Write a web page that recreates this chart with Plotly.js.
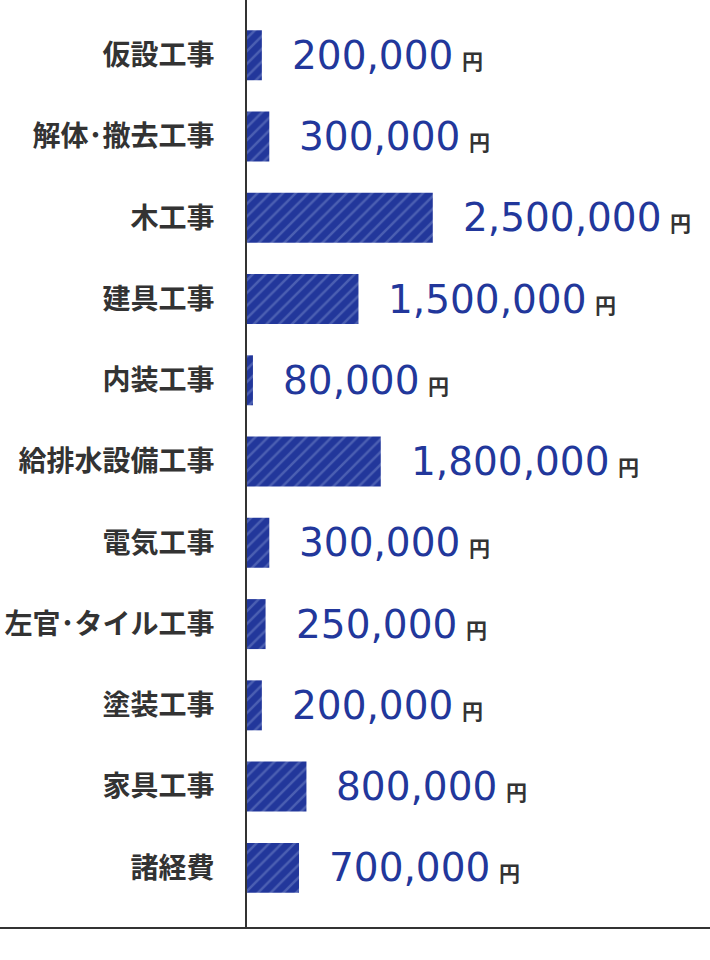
<!DOCTYPE html>
<html>
<head>
<meta charset="utf-8">
<script src="https://cdn.plot.ly/plotly-3.0.1.min.js"></script>
<style>
  html, body { margin: 0; padding: 0; background: #fff; }
  #chart { width: 710px; height: 960px; }
</style>
</head>
<body>
<div id="chart"></div>
<script>
const categories = [
  "仮設工事", "解体･撤去工事", "木工事", "建具工事", "内装工事",
  "給排水設備工事", "電気工事", "左官･タイル工事", "塗装工事", "家具工事", "諸経費"
];
const costs = [200000, 300000, 2500000, 1500000, 80000, 1800000, 300000, 250000, 200000, 800000, 700000];
const unitLabel = "円";

const BLUE = "#22379b";
const STRIPE = "#4b5fb2";
const DARK = "#333333";

const bars = {
  type: "bar",
  orientation: "h",
  x: costs,
  y: categories,
  marker: {
    color: BLUE,
    line: { width: 0 },
    pattern: { shape: "/", bgcolor: BLUE, fgcolor: STRIPE, size: 9, solidity: 0.28 },
  },
  hoverinfo: "skip",
  showlegend: false,
};

// value labels: big blue number + small bold dark unit
const valueNotes = categories.map((c, i) => ({
  x: costs[i],
  y: c,
  xref: "x",
  yref: "y",
  xanchor: "left",
  yanchor: "middle",
  xshift: 28,
  showarrow: false,
  text:
    `<span style="font-size:39px;color:${BLUE}">${costs[i].toLocaleString("en-US")}</span>` +
    `<span style="font-size:27px"> </span>` +
    `<span style="font-size:21px;color:${DARK};font-weight:bold;font-family:'Noto Sans CJK JP'">${unitLabel}</span>`,
  font: { family: "'DejaVu Sans', sans-serif", size: 39, color: BLUE },
}));

const layout = {
  width: 710,
  height: 960,
  margin: { l: 247, r: 0, t: 0, b: 32 },
  paper_bgcolor: "#fff",
  plot_bgcolor: "#fff",
  bargap: 0.385,
  xaxis: {
    range: [0, 6230000],
    showgrid: false,
    zeroline: false,
    showticklabels: false,
    ticks: "",
    showline: false,
    fixedrange: true,
  },
  yaxis: {
    type: "category",
    range: [10.74, -0.68],
    showgrid: false,
    zeroline: false,
    ticks: "",
    showline: true,
    linecolor: DARK,
    linewidth: 2,
    ticklabelstandoff: 25,
    tickfont: { family: "'Noto Sans CJK JP', sans-serif", size: 28, color: DARK, weight: 700 },
    fixedrange: true,
  },
  shapes: [
    {
      type: "line",
      xref: "paper",
      yref: "paper",
      x0: -247 / 463,
      x1: 1,
      y0: 0,
      y1: 0,
      line: { color: DARK, width: 2 },
    },
  ],
  annotations: valueNotes,
};

Plotly.newPlot("chart", [bars], layout, { displayModeBar: false, staticPlot: true });
</script>
</body>
</html>
